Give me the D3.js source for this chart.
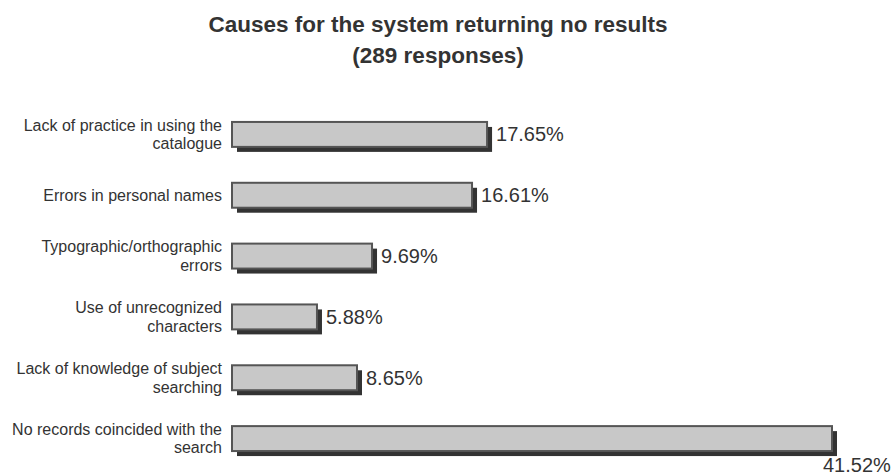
<!DOCTYPE html>
<html>
<head>
<meta charset="utf-8">
<script src="https://cdn.jsdelivr.net/npm/d3@7"></script>
<style>
  body { margin: 0; background: #fff; }
  svg text { font-family: "Liberation Sans", Arial, sans-serif; fill: #333; }
</style>
</head>
<body>
<div id="chart"></div>
<script>
const width = 893, height = 473;
const titleLines = ["Causes for the system returning no results", "(289 responses)"];
const categories = [
  ["Lack of practice in using the", "catalogue"],
  ["Errors in personal names"],
  ["Typographic/orthographic", "errors"],
  ["Use of unrecognized", "characters"],
  ["Lack of knowledge of subject", "searching"],
  ["No records coincided with the", "search"]
];
const values = [17.65, 16.61, 9.69, 5.88, 8.65, 41.52];
const labels = ["17.65%", "16.61%", "9.69%", "5.88%", "8.65%", "41.52%"];

const svg = d3.select("#chart").append("svg")
  .attr("width", width)
  .attr("height", height);

// title
svg.append("text")
  .attr("text-anchor", "middle")
  .attr("font-weight", "bold")
  .attr("font-size", 22.5)
  .selectAll("tspan")
  .data(titleLines)
  .enter().append("tspan")
  .attr("x", 438)
  .attr("y", (d, i) => 32 + i * 31)
  .text(d => d);

const keys = categories.map(d => d.join(" "));
const y = d3.scaleBand()
  .domain(keys)
  .range([104, 469])
  .paddingInner(0.59)
  .paddingOuter(0.295);

const x = d3.scaleLinear()
  .domain([0, d3.max(values)])
  .range([232, 832]);

const rows = svg.selectAll(".row")
  .data(values)
  .enter().append("g")
  .attr("class", "row");

const shadow = 5;

// shadow
rows.append("rect")
  .attr("x", x(0) + shadow)
  .attr("y", (d, i) => y(keys[i]) + shadow)
  .attr("width", d => x(d) - x(0))
  .attr("height", y.bandwidth())
  .style("fill", "#333");

// bar
rows.append("rect")
  .attr("x", x(0))
  .attr("y", (d, i) => y(keys[i]))
  .attr("width", d => x(d) - x(0))
  .attr("height", y.bandwidth())
  .style("fill", "#c8c8c8")
  .style("stroke", "#555")
  .style("stroke-width", 2);

// value labels; the longest bar has its label below the end
rows.append("text")
  .attr("font-size", 20)
  .attr("x", (d, i) => d === d3.max(values) ? x(d) - 9 : x(d) + 9)
  .attr("y", (d, i) => d === d3.max(values)
    ? y(keys[i]) + y.bandwidth() + 21
    : y(keys[i]) + y.bandwidth() / 2 + 7)
  .text((d, i) => labels[i]);

// category labels
const catText = svg.selectAll(".cat")
  .data(categories)
  .enter().append("text")
  .attr("class", "cat")
  .attr("text-anchor", "end")
  .attr("font-size", 16);

catText.selectAll("tspan")
  .data((d, i) => d.map((line, j) => ({ line, j, n: d.length, key: keys[i] })))
  .enter().append("tspan")
  .attr("x", 222)
  .attr("y", d => y(d.key) + y.bandwidth() / 2 + 5.5 + (d.j - (d.n - 1) / 2) * 18.5)
  .text(d => d.line);
</script>
</body>
</html>
